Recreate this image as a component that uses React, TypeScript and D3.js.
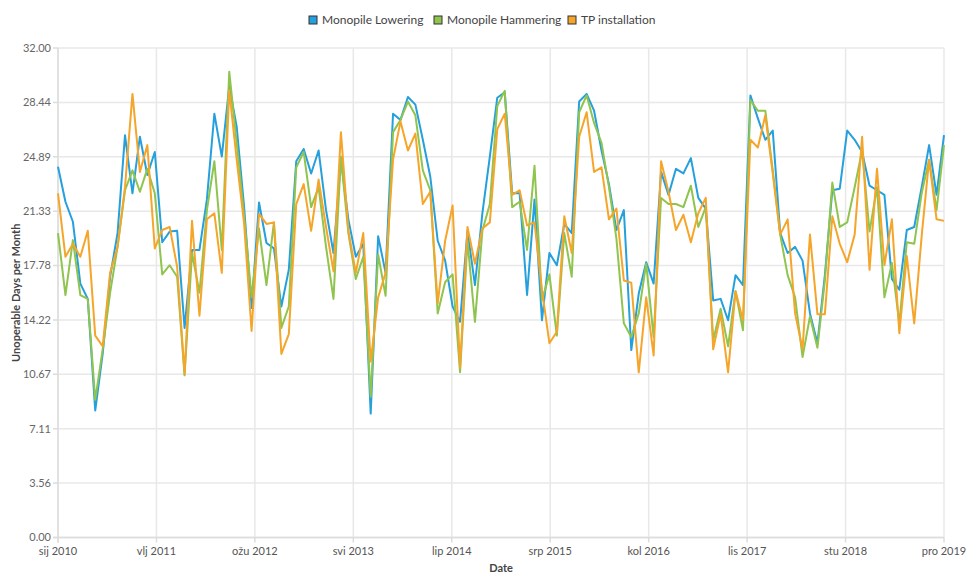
import React from "react";
import * as d3 from "d3";

const seriesNames = ["Monopile Lowering", "Monopile Hammering", "TP installation"];
const seriesColors = ["#25a0dd", "#8fc44e", "#f5a52a"];

const xTickLabels = ["sij 2010", "vlj 2011", "ožu 2012", "svi 2013", "lip 2014", "srp 2015", "kol 2016", "lis 2017", "stu 2018", "pro 2019"];
const yTicks = [0, 3.56, 7.11, 10.67, 14.22, 17.78, 21.33, 24.89, 28.44, 32.0];

const lowering = [
  24.24, 21.95, 20.64, 16.6, 15.6, 8.3, 12.0, 17.05, 19.9, 26.3, 22.5, 26.2,
  23.7, 25.2, 19.3, 20.0, 20.05, 13.7, 18.8, 18.8, 22.1, 27.7, 24.9, 29.5,
  26.85, 21.6, 15.0, 21.9, 19.25, 18.9, 15.1, 17.5, 24.6, 25.4, 23.8, 25.3,
  21.4, 18.6, 24.7, 20.8, 18.35, 19.2, 8.1, 19.7, 17.3, 27.7, 27.3, 28.8,
  28.3, 26.0, 23.6, 19.4, 18.1, 15.1, 14.1, 20.05, 16.5, 21.2, 24.9, 28.75,
  29.1, 22.5, 22.5, 15.85, 22.1, 14.2, 18.6, 17.8, 20.5, 19.9, 28.5, 29.0,
  27.9, 25.3, 23.1, 20.1, 21.4, 12.25, 15.95, 18.0, 16.6, 23.9, 22.4, 24.1,
  23.8, 24.8, 22.2, 21.5, 15.5, 15.6, 14.2, 17.15, 16.5, 28.9, 27.4, 26.0,
  26.6, 19.9, 18.6, 19.0, 18.1, 14.65, 12.7, 17.15, 22.7, 22.8, 26.6, 26.0,
  25.2, 23.0, 22.7, 22.4, 16.9, 16.2, 20.1, 20.3, 22.9, 25.65, 22.4, 26.3,
];

const hammering = [
  19.9, 15.85, 19.44, 15.85, 15.6, 9.0, 12.3, 16.0, 19.0, 22.7, 24.0, 22.6,
  24.1, 22.5, 17.2, 17.8, 17.05, 10.6, 18.6, 16.0, 21.4, 24.6, 18.8, 30.45,
  25.8, 21.0, 15.7, 20.2, 16.5, 20.6, 13.7, 15.1, 24.2, 25.2, 21.6, 22.9,
  19.0, 15.6, 24.9, 19.9, 16.9, 18.35, 9.2, 18.5, 15.8, 26.5, 27.3, 28.5,
  27.6, 24.0, 22.7, 14.65, 16.7, 17.2, 10.8, 19.4, 14.1, 20.05, 21.8, 28.2,
  29.2, 21.6, 21.95, 18.8, 24.3, 15.5, 17.2, 13.2, 19.9, 17.05, 27.8, 28.9,
  27.1, 25.8, 22.9, 19.55, 14.0, 13.1, 14.65, 17.9, 13.1, 22.2, 21.8, 21.8,
  21.6, 23.0, 20.3, 21.6, 12.9, 14.95, 12.5, 16.1, 13.55, 28.6, 27.9, 27.9,
  24.0, 19.8, 17.15, 15.7, 11.8, 14.45, 12.4, 16.8, 23.2, 20.3, 20.6, 22.9,
  25.3, 20.0, 22.9, 15.7, 17.95, 14.0, 19.3, 19.2, 22.5, 24.7, 21.4, 25.65,
];

const tpInstallation = [
  22.5, 18.35, 19.2, 18.35, 20.05, 13.2, 12.5, 17.3, 19.0, 22.9, 29.0, 23.9,
  25.65, 18.9, 20.1, 20.3, 17.7, 10.7, 20.7, 14.5, 20.8, 21.2, 17.3, 29.25,
  24.7, 20.5, 13.5, 21.15, 20.5, 20.6, 12.0, 13.3, 21.8, 23.1, 20.05, 23.4,
  20.3, 17.4, 26.5, 20.05, 17.3, 19.9, 11.5, 15.7, 17.3, 24.7, 27.2, 25.3,
  26.4, 21.8, 22.6, 15.3, 19.4, 21.7, 11.1, 20.3, 17.9, 20.2, 20.6, 26.7,
  27.7, 22.4, 22.7, 20.4, 20.6, 16.2, 12.7, 13.45, 21.0, 18.6, 26.2, 27.8,
  23.9, 24.2, 20.8, 21.5, 16.8, 16.65, 10.8, 15.7, 11.9, 24.6, 22.6, 20.1,
  21.1, 19.3, 21.2, 22.2, 12.3, 14.6, 10.8, 16.1, 14.2, 26.0, 25.5, 27.6,
  23.8, 19.8, 20.8, 14.65, 12.3, 19.8, 14.6, 14.6, 21.0, 19.2, 18.0, 19.8,
  26.2, 17.5, 24.1, 17.8, 20.8, 13.35, 18.4, 14.0, 19.7, 24.7, 20.8, 20.7,
];

const W = 967;
const H = 575;
const M = { left: 58, right: 23, top: 48, bottom: 37.5 };
const FONT = "Lato, 'Open Sans', sans-serif";

export default function App() {
  const allSeries = [lowering, hammering, tpInstallation];
  const n = lowering.length;
  const x = d3.scaleLinear().domain([0, n - 1]).range([M.left, W - M.right]);
  const y = d3.scaleLinear().domain([0, 32]).range([H - M.bottom, M.top]);
  const line = d3
    .line<number>()
    .x((_, i) => x(i))
    .y((d) => y(d));
  const xTickPos = xTickLabels.map((_, k) => (k * (n - 1)) / (xTickLabels.length - 1));
  const legendX = [313, 438, 572];

  return (
    <svg
      width={W}
      height={H}
      style={{ position: "absolute", left: 0, top: 0, display: "block", background: "#fff" }}
      fontFamily={FONT}
    >
      {yTicks.map((t) => (
        <line key={"gy" + t} x1={M.left} x2={W - M.right} y1={y(t)} y2={y(t)} stroke="#e8e8e8" strokeWidth={1.5} />
      ))}
      {xTickPos.map((t, k) => (
        <line key={"gx" + k} x1={x(t)} x2={x(t)} y1={M.top} y2={H - M.bottom} stroke="#e8e8e8" strokeWidth={1.5} />
      ))}
      <line x1={M.left} x2={M.left} y1={M.top} y2={H - M.bottom + 5} stroke="#dcdcdc" strokeWidth={1.5} />
      <line x1={M.left - 5} x2={W - M.right} y1={H - M.bottom} y2={H - M.bottom} stroke="#dcdcdc" strokeWidth={1.5} />
      {yTicks.map((t) => (
        <g key={"yt" + t}>
          <line x1={M.left - 5} x2={M.left} y1={y(t)} y2={y(t)} stroke="#dcdcdc" strokeWidth={1.5} />
          <text x={M.left - 7} y={y(t)} dy="0.35em" textAnchor="end" fontSize={11} fill="#666">
            {t.toFixed(2)}
          </text>
        </g>
      ))}
      {xTickPos.map((t, k) => (
        <g key={"xt" + k}>
          <line x1={x(t)} x2={x(t)} y1={H - M.bottom} y2={H - M.bottom + 5} stroke="#dcdcdc" strokeWidth={1.5} />
          <text x={x(t)} y={H - M.bottom + 17} textAnchor="middle" fontSize={11} fill="#555">
            {xTickLabels[k]}
          </text>
        </g>
      ))}
      <text
        transform={`translate(19.5, ${(M.top + H - M.bottom) / 2}) rotate(-90)`}
        textAnchor="middle"
        fontSize={11}
        fontWeight="bold"
        fill="#444"
      >
        Unoperable Days per Month
      </text>
      <text x={(M.left + W - M.right) / 2} y={H - 3} textAnchor="middle" fontSize={11} fontWeight="bold" fill="#444">
        Date
      </text>
      {allSeries.map((s, i) => (
        <path key={"l" + i} d={line(s) || ""} fill="none" stroke={seriesColors[i]} strokeWidth={2} strokeLinejoin="round" />
      ))}
      {seriesNames.map((name, i) => (
        <g key={"lg" + i} transform={`translate(${legendX[i]}, 20)`}>
          <rect x={-4} y={-4} width={8} height={8} fill={seriesColors[i]} stroke="#333" strokeWidth={1} />
          <text x={9} y={0} dy="0.35em" fontSize={12} fill="#444">
            {name}
          </text>
        </g>
      ))}
    </svg>
  );
}
